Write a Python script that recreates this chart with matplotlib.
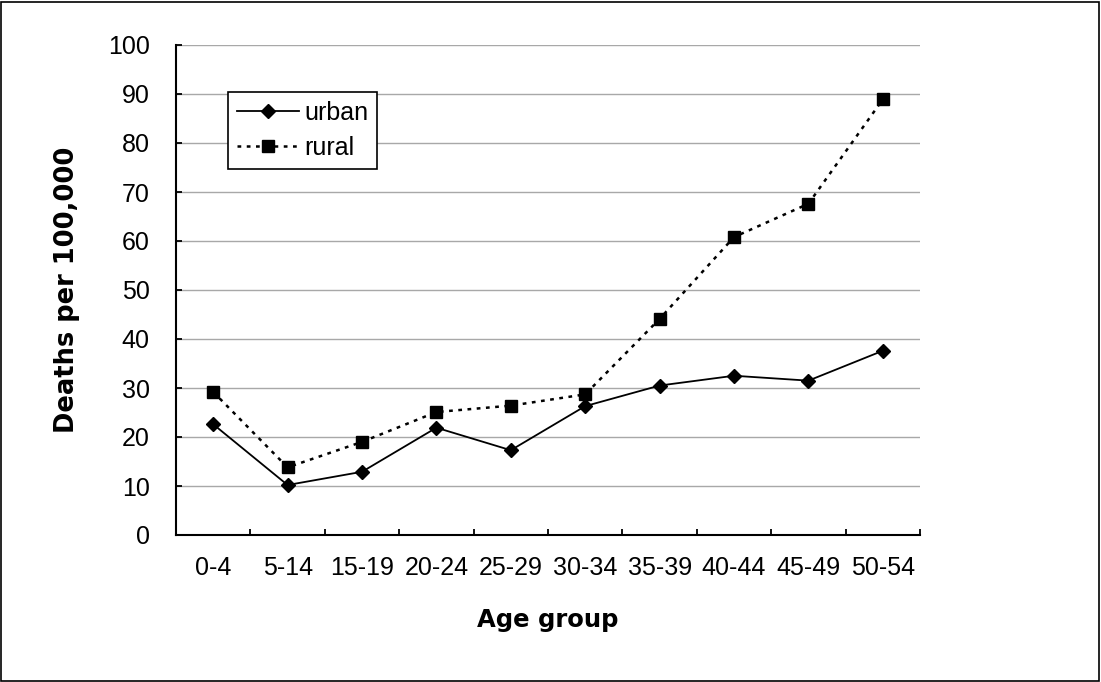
import matplotlib
matplotlib.use("Agg")
import matplotlib.pyplot as plt
from matplotlib.patches import Rectangle

plt.rcParams['font.family'] = ['Liberation Sans', 'DejaVu Sans']

categories = ["0-4", "5-14", "15-19", "20-24", "25-29", "30-34", "35-39", "40-44", "45-49", "50-54"]
urban = [22.6, 10.2, 12.9, 21.9, 17.3, 26.3, 30.5, 32.5, 31.5, 37.6]
rural = [29.2, 13.8, 19.0, 25.1, 26.4, 28.7, 44.1, 60.8, 67.6, 88.9]
yticks = [0, 10, 20, 30, 40, 50, 60, 70, 80, 90, 100]

fig = plt.figure(figsize=(11.01, 6.82), dpi=100)
ax = fig.add_axes([176/1101, 1-535/682, 744/1101, 490/682])

x = list(range(len(categories)))
ax.plot(x, urban, color='black', linestyle='-', linewidth=1.3, marker='D',
        markersize=7.5, label='urban', zorder=3)
ax.plot(x, rural, color='black', linestyle=(0, (1.5, 2.2)), linewidth=1.8, marker='s',
        markersize=8.5, label='rural', zorder=3)

ax.set_xlim(-0.5, len(categories) - 0.5)
ax.set_ylim(0, 100)
ax.set_yticks(yticks)
ax.set_yticklabels([str(v) for v in yticks], fontsize=18)
ax.set_xticks([i + 0.5 for i in range(-1, len(categories))])
ax.set_xticklabels([])
ax.set_xticks(x, minor=True)
ax.set_xticklabels(categories, minor=True, fontsize=18)
ax.tick_params(axis='x', which='minor', length=0, pad=15)
ax.tick_params(axis='x', which='major', length=4, width=1.3, direction='in')
ax.tick_params(axis='y', length=4, width=1.3, direction='in', pad=19)

for v in yticks[1:]:
    ax.axhline(v, color='#a8a8a8', linewidth=1.0, zorder=1)

for s in ['top', 'right']:
    ax.spines[s].set_visible(False)
for s in ['left', 'bottom']:
    ax.spines[s].set_linewidth(1.5)

ax.set_ylabel('Deaths per 100,000', fontsize=18.5, fontweight='bold',
              family=['DejaVu Sans'], labelpad=20)
ax.set_xlabel('Age group', fontsize=17.5, fontweight='bold',
              family=['DejaVu Sans'], labelpad=20)

leg = ax.legend(loc='upper left', bbox_to_anchor=(52/744, (535-92)/490), frameon=True,
                fancybox=False, edgecolor='black', fontsize=18, handlelength=2.5,
                borderpad=0.35, labelspacing=0.45, handletextpad=0.2, framealpha=1,
                borderaxespad=0)
leg.get_frame().set_linewidth(1.2)

fig.patches.append(Rectangle((1/1101, 1/682), 1 - 3/1101, 1 - 3/682,
                             transform=fig.transFigure, fill=False,
                             edgecolor='black', linewidth=1.2))

fig.savefig('out.png', dpi=100)
